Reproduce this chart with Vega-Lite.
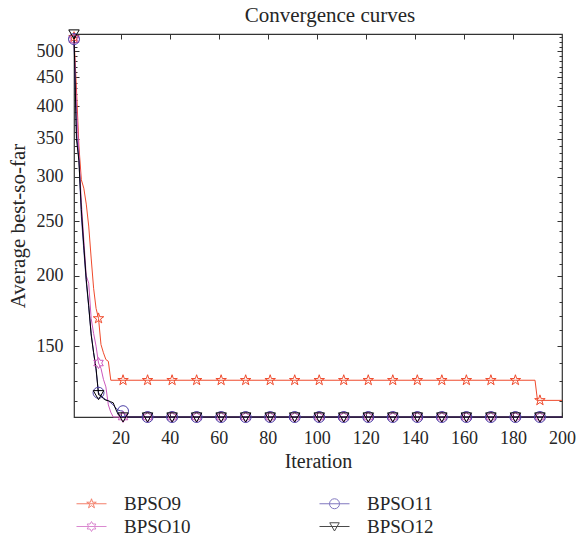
{
  "$schema": "https://vega.github.io/schema/vega-lite/v6.json",
  "autosize": {"type": "none"},
  "width": 488,
  "height": 383,
  "padding": {"left": 74, "top": 34, "right": 15, "bottom": 127},
  "background": "white",
  "title": {"text": "Convergence curves", "font": "Liberation Serif", "fontSize": 21, "fontWeight": "normal", "color": "#262626", "anchor": "middle", "offset": 2, "dx": 12},
  "config": {
    "font": "Liberation Serif",
    "view": {"stroke": "#333333", "strokeWidth": 1.2},
    "axis": {"domain": false, "grid": false, "labelFont": "Liberation Serif", "titleFont": "Liberation Serif", "labelFontSize": 18, "titleFontSize": 20, "titleFontWeight": "normal", "labelColor": "#262626", "titleColor": "#262626", "tickColor": "#333333", "tickWidth": 1},
    "legend": {"labelFont": "Liberation Serif", "labelFontSize": 19, "labelColor": "#262626"}
  },
  "datasets": {
    "curves": [
      {"series": "BPSO9", "iter": 1, "value": 530},
      {"series": "BPSO9", "iter": 2, "value": 430},
      {"series": "BPSO9", "iter": 3, "value": 340},
      {"series": "BPSO9", "iter": 4, "value": 296},
      {"series": "BPSO9", "iter": 5, "value": 286},
      {"series": "BPSO9", "iter": 6, "value": 268},
      {"series": "BPSO9", "iter": 7, "value": 245},
      {"series": "BPSO9", "iter": 8, "value": 215},
      {"series": "BPSO9", "iter": 9, "value": 190},
      {"series": "BPSO9", "iter": 10, "value": 175},
      {"series": "BPSO9", "iter": 11, "value": 168},
      {"series": "BPSO9", "iter": 12, "value": 151},
      {"series": "BPSO9", "iter": 13, "value": 146},
      {"series": "BPSO9", "iter": 14, "value": 142},
      {"series": "BPSO9", "iter": 15, "value": 141},
      {"series": "BPSO9", "iter": 16, "value": 130.5},
      {"series": "BPSO9", "iter": 21, "value": 130.5},
      {"series": "BPSO9", "iter": 31, "value": 130.5},
      {"series": "BPSO9", "iter": 41, "value": 130.5},
      {"series": "BPSO9", "iter": 51, "value": 130.5},
      {"series": "BPSO9", "iter": 61, "value": 130.5},
      {"series": "BPSO9", "iter": 71, "value": 130.5},
      {"series": "BPSO9", "iter": 81, "value": 130.5},
      {"series": "BPSO9", "iter": 91, "value": 130.5},
      {"series": "BPSO9", "iter": 101, "value": 130.5},
      {"series": "BPSO9", "iter": 111, "value": 130.5},
      {"series": "BPSO9", "iter": 121, "value": 130.5},
      {"series": "BPSO9", "iter": 131, "value": 130.5},
      {"series": "BPSO9", "iter": 141, "value": 130.5},
      {"series": "BPSO9", "iter": 151, "value": 130.5},
      {"series": "BPSO9", "iter": 161, "value": 130.5},
      {"series": "BPSO9", "iter": 171, "value": 130.5},
      {"series": "BPSO9", "iter": 181, "value": 130.5},
      {"series": "BPSO9", "iter": 189, "value": 130.5},
      {"series": "BPSO9", "iter": 190, "value": 120.2},
      {"series": "BPSO9", "iter": 191, "value": 120.2},
      {"series": "BPSO9", "iter": 200, "value": 120.2},

      {"series": "BPSO10", "iter": 1, "value": 525},
      {"series": "BPSO10", "iter": 2, "value": 400},
      {"series": "BPSO10", "iter": 3, "value": 330},
      {"series": "BPSO10", "iter": 4, "value": 270},
      {"series": "BPSO10", "iter": 5, "value": 232},
      {"series": "BPSO10", "iter": 6, "value": 200},
      {"series": "BPSO10", "iter": 7, "value": 194},
      {"series": "BPSO10", "iter": 8, "value": 168},
      {"series": "BPSO10", "iter": 9, "value": 158},
      {"series": "BPSO10", "iter": 10, "value": 150},
      {"series": "BPSO10", "iter": 11, "value": 140},
      {"series": "BPSO10", "iter": 12, "value": 137},
      {"series": "BPSO10", "iter": 13, "value": 131},
      {"series": "BPSO10", "iter": 14, "value": 127},
      {"series": "BPSO10", "iter": 15, "value": 118},
      {"series": "BPSO10", "iter": 16, "value": 114.5},
      {"series": "BPSO10", "iter": 17, "value": 112.3},
      {"series": "BPSO10", "iter": 21, "value": 112.3},
      {"series": "BPSO10", "iter": 31, "value": 112.3},
      {"series": "BPSO10", "iter": 41, "value": 112.3},
      {"series": "BPSO10", "iter": 51, "value": 112.3},
      {"series": "BPSO10", "iter": 61, "value": 112.3},
      {"series": "BPSO10", "iter": 71, "value": 112.3},
      {"series": "BPSO10", "iter": 81, "value": 112.3},
      {"series": "BPSO10", "iter": 91, "value": 112.3},
      {"series": "BPSO10", "iter": 101, "value": 112.3},
      {"series": "BPSO10", "iter": 111, "value": 112.3},
      {"series": "BPSO10", "iter": 121, "value": 112.3},
      {"series": "BPSO10", "iter": 131, "value": 112.3},
      {"series": "BPSO10", "iter": 141, "value": 112.3},
      {"series": "BPSO10", "iter": 151, "value": 112.3},
      {"series": "BPSO10", "iter": 161, "value": 112.3},
      {"series": "BPSO10", "iter": 171, "value": 112.3},
      {"series": "BPSO10", "iter": 181, "value": 112.3},
      {"series": "BPSO10", "iter": 191, "value": 112.3},
      {"series": "BPSO10", "iter": 200, "value": 112.3},

      {"series": "BPSO11", "iter": 1, "value": 526},
      {"series": "BPSO11", "iter": 2, "value": 360},
      {"series": "BPSO11", "iter": 3, "value": 322},
      {"series": "BPSO11", "iter": 4, "value": 255},
      {"series": "BPSO11", "iter": 5, "value": 222},
      {"series": "BPSO11", "iter": 6, "value": 195},
      {"series": "BPSO11", "iter": 7, "value": 176},
      {"series": "BPSO11", "iter": 8, "value": 158},
      {"series": "BPSO11", "iter": 9, "value": 146},
      {"series": "BPSO11", "iter": 10, "value": 136},
      {"series": "BPSO11", "iter": 11, "value": 124},
      {"series": "BPSO11", "iter": 12, "value": 122.5},
      {"series": "BPSO11", "iter": 13, "value": 121.5},
      {"series": "BPSO11", "iter": 14, "value": 120.5},
      {"series": "BPSO11", "iter": 15, "value": 120},
      {"series": "BPSO11", "iter": 16, "value": 119},
      {"series": "BPSO11", "iter": 17, "value": 118},
      {"series": "BPSO11", "iter": 18, "value": 116.5},
      {"series": "BPSO11", "iter": 19, "value": 115.5},
      {"series": "BPSO11", "iter": 20, "value": 115.2},
      {"series": "BPSO11", "iter": 21, "value": 115},
      {"series": "BPSO11", "iter": 22, "value": 112.3},
      {"series": "BPSO11", "iter": 31, "value": 112.3},
      {"series": "BPSO11", "iter": 41, "value": 112.3},
      {"series": "BPSO11", "iter": 51, "value": 112.3},
      {"series": "BPSO11", "iter": 61, "value": 112.3},
      {"series": "BPSO11", "iter": 71, "value": 112.3},
      {"series": "BPSO11", "iter": 81, "value": 112.3},
      {"series": "BPSO11", "iter": 91, "value": 112.3},
      {"series": "BPSO11", "iter": 101, "value": 112.3},
      {"series": "BPSO11", "iter": 111, "value": 112.3},
      {"series": "BPSO11", "iter": 121, "value": 112.3},
      {"series": "BPSO11", "iter": 131, "value": 112.3},
      {"series": "BPSO11", "iter": 141, "value": 112.3},
      {"series": "BPSO11", "iter": 151, "value": 112.3},
      {"series": "BPSO11", "iter": 161, "value": 112.3},
      {"series": "BPSO11", "iter": 171, "value": 112.3},
      {"series": "BPSO11", "iter": 181, "value": 112.3},
      {"series": "BPSO11", "iter": 191, "value": 112.3},
      {"series": "BPSO11", "iter": 200, "value": 112.3},

      {"series": "BPSO12", "iter": 1, "value": 537},
      {"series": "BPSO12", "iter": 2, "value": 350},
      {"series": "BPSO12", "iter": 3, "value": 320},
      {"series": "BPSO12", "iter": 4, "value": 262},
      {"series": "BPSO12", "iter": 5, "value": 226},
      {"series": "BPSO12", "iter": 6, "value": 197},
      {"series": "BPSO12", "iter": 7, "value": 177},
      {"series": "BPSO12", "iter": 8, "value": 157},
      {"series": "BPSO12", "iter": 9, "value": 146},
      {"series": "BPSO12", "iter": 10, "value": 137},
      {"series": "BPSO12", "iter": 11, "value": 123},
      {"series": "BPSO12", "iter": 12, "value": 122.5},
      {"series": "BPSO12", "iter": 13, "value": 121},
      {"series": "BPSO12", "iter": 14, "value": 120.3},
      {"series": "BPSO12", "iter": 15, "value": 120},
      {"series": "BPSO12", "iter": 16, "value": 119.5},
      {"series": "BPSO12", "iter": 17, "value": 119},
      {"series": "BPSO12", "iter": 18, "value": 116},
      {"series": "BPSO12", "iter": 19, "value": 113.5},
      {"series": "BPSO12", "iter": 20, "value": 112.3},
      {"series": "BPSO12", "iter": 21, "value": 112.3},
      {"series": "BPSO12", "iter": 31, "value": 112.3},
      {"series": "BPSO12", "iter": 41, "value": 112.3},
      {"series": "BPSO12", "iter": 51, "value": 112.3},
      {"series": "BPSO12", "iter": 61, "value": 112.3},
      {"series": "BPSO12", "iter": 71, "value": 112.3},
      {"series": "BPSO12", "iter": 81, "value": 112.3},
      {"series": "BPSO12", "iter": 91, "value": 112.3},
      {"series": "BPSO12", "iter": 101, "value": 112.3},
      {"series": "BPSO12", "iter": 111, "value": 112.3},
      {"series": "BPSO12", "iter": 121, "value": 112.3},
      {"series": "BPSO12", "iter": 131, "value": 112.3},
      {"series": "BPSO12", "iter": 141, "value": 112.3},
      {"series": "BPSO12", "iter": 151, "value": 112.3},
      {"series": "BPSO12", "iter": 161, "value": 112.3},
      {"series": "BPSO12", "iter": 171, "value": 112.3},
      {"series": "BPSO12", "iter": 181, "value": 112.3},
      {"series": "BPSO12", "iter": 191, "value": 112.3},
      {"series": "BPSO12", "iter": 200, "value": 112.3}
    ]
  },
  "data": {"name": "curves"},
  "resolve": {"scale": {"color": "independent", "shape": "independent"}, "axis": {"x": "independent", "y": "independent"}},
  "layer": [
    {
      "mark": {"type": "line", "strokeWidth": 1, "clip": false},
      "encoding": {
        "x": {"field": "iter", "type": "quantitative", "scale": {"domain": [1, 200], "nice": false, "zero": false},
              "axis": {"orient": "bottom", "values": [20, 40, 60, 80, 100, 120, 140, 160, 180, 200], "tickSize": -5, "labelPadding": 17, "title": "Iteration", "titlePadding": 4, "labelFlush": false}},
        "y": {"field": "value", "type": "quantitative", "scale": {"type": "log", "domain": [112.3, 537], "nice": false, "zero": false},
              "axis": {"orient": "left", "values": [120, 130, 140, 150, 160, 170, 180, 190, 200, 210, 220, 230, 240, 250, 260, 270, 280, 290, 300, 310, 320, 330, 340, 350, 360, 370, 380, 390, 400, 410, 420, 430, 440, 450, 460, 470, 480, 490, 500, 510, 520, 530],
                       "tickSize": {"condition": {"test": "datum.value % 50 == 0", "value": -5}, "value": -3},
                       "labelExpr": "datum.value % 50 == 0 ? format(datum.value, 'd') : ''",
                       "labelOverlap": false, "labelPadding": 16, "labelFlush": false,
                       "title": "Average best-so-far", "titlePadding": 8, "titleFontSize": 21}},
        "color": {"field": "series", "type": "nominal", "scale": {"domain": ["BPSO9", "BPSO10", "BPSO11", "BPSO12"], "range": ["#ef4a2c", "#cb58bd", "#4c3fa6", "#000000"]}, "legend": null},
        "detail": {"field": "series"},
        "order": {"field": "iter", "type": "quantitative"}
      }
    },
    {
      "transform": [{"filter": "datum.iter % 10 == 1"}],
      "mark": {"type": "point", "filled": false, "size": 121, "strokeWidth": 1, "opacity": 1},
      "encoding": {
        "x": {"field": "iter", "type": "quantitative",
              "axis": {"orient": "top", "values": [20, 40, 60, 80, 100, 120, 140, 160, 180], "tickSize": -5, "labels": false, "title": null}},
        "y": {"field": "value", "type": "quantitative",
              "axis": {"orient": "right", "values": [120, 130, 140, 150, 160, 170, 180, 190, 200, 210, 220, 230, 240, 250, 260, 270, 280, 290, 300, 310, 320, 330, 340, 350, 360, 370, 380, 390, 400, 410, 420, 430, 440, 450, 460, 470, 480, 490, 500, 510, 520, 530],
                       "tickSize": {"condition": {"test": "datum.value % 50 == 0", "value": -5}, "value": -3},
                       "labels": false, "title": null}},
        "color": {"field": "series", "type": "nominal", "scale": {"domain": ["BPSO9", "BPSO10", "BPSO11", "BPSO12"], "range": ["#ef4a2c", "#cb58bd", "#4c3fa6", "#000000"]}, "legend": null},
        "shape": {"field": "series", "type": "nominal", "scale": {"domain": ["BPSO9", "BPSO10", "BPSO11", "BPSO12"], "range": [
          "M0,-1L0.2245,-0.309L0.951,-0.309L0.3633,0.118L0.588,0.809L0,0.382L-0.588,0.809L-0.3633,0.118L-0.951,-0.309L-0.2245,-0.309Z",
          "M0,-1L0.2887,-0.5L0.866,-0.5L0.577,0L0.866,0.5L0.2887,0.5L0,1L-0.2887,0.5L-0.866,0.5L-0.577,0L-0.866,-0.5L-0.2887,-0.5Z",
          "M1,0A1,1,0,1,1,-1,0A1,1,0,1,1,1,0Z",
          "M-0.95,-0.75L0.95,-0.75L0,0.9Z"]}, "legend": null}
      }
    },
    {
      "transform": [{"filter": "datum.iter < 0"}],
      "mark": {"type": "point", "filled": false, "strokeWidth": 1},
      "encoding": {
        "color": {"field": "series", "type": "nominal", "scale": {"domain": ["BPSO9", "BPSO10", "BPSO11", "BPSO12"], "range": ["#ef4a2c", "#cb58bd", "#4c3fa6", "#000000"]},
                  "legend": {"title": null, "orient": "none", "legendX": 8, "legendY": 460, "columns": 2, "columnPadding": 126, "rowPadding": 3, "symbolSize": 100, "symbolStrokeWidth": 1, "labelOffset": 23, "padding": 0, "symbolOffset": 0}},
        "shape": {"field": "series", "type": "nominal", "scale": {"domain": ["BPSO9", "BPSO10", "BPSO11", "BPSO12"], "range": [
          "M-3,0H3M0,-1L0.2245,-0.309L0.951,-0.309L0.3633,0.118L0.588,0.809L0,0.382L-0.588,0.809L-0.3633,0.118L-0.951,-0.309L-0.2245,-0.309Z",
          "M-3,0H3M0,-1L0.2887,-0.5L0.866,-0.5L0.577,0L0.866,0.5L0.2887,0.5L0,1L-0.2887,0.5L-0.866,0.5L-0.577,0L-0.866,-0.5L-0.2887,-0.5Z",
          "M-3,0H3M1,0A1,1,0,1,1,-1,0A1,1,0,1,1,1,0Z",
          "M-3,0H3M-0.95,-0.75L0.95,-0.75L0,0.9Z"]},
                  "legend": {"title": null, "orient": "none", "legendX": 8, "legendY": 460, "columns": 2, "columnPadding": 126, "rowPadding": 3, "symbolSize": 100, "symbolStrokeWidth": 1, "labelOffset": 23, "padding": 0, "symbolOffset": 0}}
      }
    }
  ]
}
